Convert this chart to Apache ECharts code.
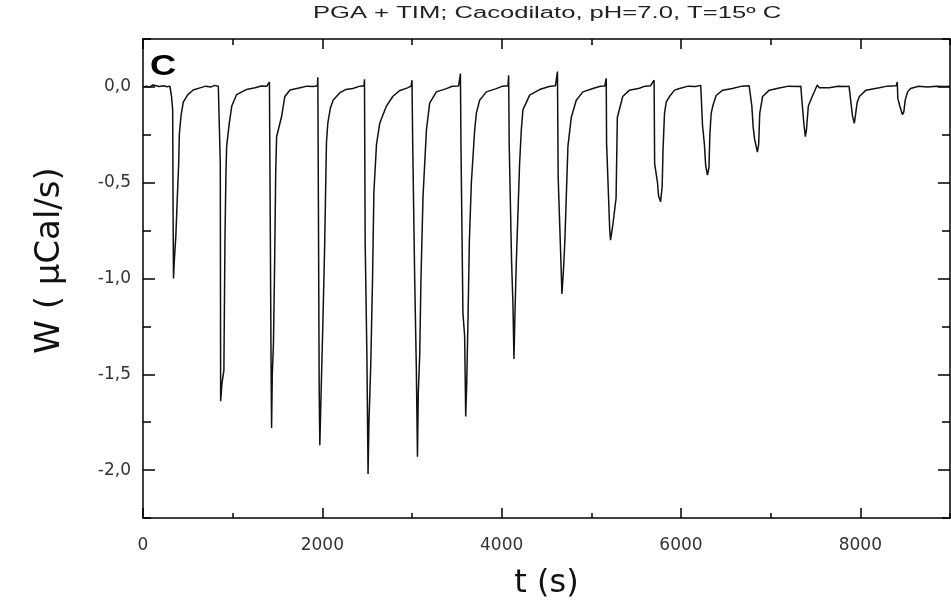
<!DOCTYPE html>
<html>
<head>
<meta charset="utf-8">
<script src="https://cdn.jsdelivr.net/npm/echarts@6/dist/echarts.min.js"></script>
<style>
html,body{margin:0;padding:0;background:#fff;}
#chart{width:951px;height:613px;}
</style>
</head>
<body>
<div id="chart"></div>
<script>
// ---- data (time in s, heat power in µcal/s) ----
const timeS = [
  0, 40, 80, 110, 130, 180, 230, 270, 300,
  318, 331, 336, 340, 350, 366, 385, 398, 405, 424, 449, 500, 560, 635, 700, 760, 800, 840,
  855, 862, 866, 880, 902, 914, 925, 933, 962, 990, 1044, 1156, 1250, 1320, 1380,
  1410, 1418, 1428, 1434, 1442, 1455, 1468, 1480, 1490, 1545, 1582, 1640, 1740, 1830, 1900, 1945,
  1950, 1956, 1965, 1972, 1985, 2005, 2025, 2040, 2046, 2061, 2090, 2120, 2195, 2260, 2340, 2420, 2465,
  2470, 2478, 2497, 2510, 2520, 2540, 2560, 2575, 2604, 2640, 2715, 2785, 2860, 2950, 2990,
  3000, 3008, 3030, 3048, 3061, 3070, 3086, 3100, 3123, 3161, 3197, 3272, 3383, 3450, 3520,
  3540, 3546, 3568, 3587, 3599, 3610, 3625, 3640, 3662, 3699, 3718, 3754, 3829, 3940, 4010, 4070,
  4078, 4084, 4110, 4126, 4137, 4150, 4163, 4200, 4219, 4237, 4312, 4423, 4530, 4600,
  4622, 4630, 4660, 4672, 4690, 4705, 4739, 4776, 4832, 4906, 5017, 5100, 5150,
  5166, 5170, 5205, 5214, 5240, 5276, 5290, 5350, 5425, 5536, 5600, 5660,
  5700, 5706, 5738, 5750, 5772, 5790, 5800, 5816, 5835, 5872, 5928, 5983, 6080, 6160, 6220,
  6232, 6240, 6261, 6275, 6295, 6312, 6322, 6336, 6354, 6392, 6465, 6573, 6680, 6760,
  6778, 6790, 6805, 6820, 6852, 6866, 6878, 6910, 6985, 7096, 7200, 7300,
  7336, 7350, 7372, 7387, 7400, 7420, 7468, 7520, 7543, 7654, 7750, 7850,
  7874, 7890, 7912, 7933, 7945, 7965, 7989, 8063, 8211, 8300, 8400,
  8412, 8418, 8440, 8470, 8485, 8500, 8527, 8560, 8650, 8750, 8850, 8950, 9000
];
const powerW = [
  0.000, 0.003, 0.000, 0.010, 0.004, 0.002, 0.006, 0.001, 0.004,
  -0.05, -0.12, -0.70, -1.00, -0.90, -0.78, -0.55, -0.40, -0.25, -0.15, -0.08, -0.04, -0.016, -0.005, 0.004, 0.000, 0.008, 0.003,
  0.004, -0.40, -1.64, -1.55, -1.48, -0.80, -0.45, -0.31, -0.19, -0.10, -0.04, -0.013, -0.004, 0.005, 0.003,
  0.026, -0.60, -1.42, -1.78, -1.50, -1.34, -0.92, -0.45, -0.26, -0.156, -0.05, -0.016, -0.006, 0.004, 0.002, 0.006,
  0.050, -0.60, -1.58, -1.87, -1.62, -1.25, -0.85, -0.45, -0.29, -0.19, -0.11, -0.07, -0.03, -0.014, -0.008, 0.004, 0.006,
  0.040, -0.82, -1.40, -2.02, -1.75, -1.45, -1.00, -0.55, -0.30, -0.19, -0.10, -0.05, -0.02, -0.005, 0.004,
  0.035, -0.30, -1.00, -1.46, -1.93, -1.60, -1.40, -1.00, -0.57, -0.225, -0.085, -0.026, -0.009, 0.003, 0.005,
  0.070, -0.30, -1.18, -1.30, -1.72, -1.55, -1.20, -0.80, -0.50, -0.225, -0.137, -0.07, -0.026, -0.009, 0.004, 0.006,
  0.060, -0.30, -0.90, -1.14, -1.42, -1.15, -0.92, -0.40, -0.225, -0.12, -0.043, -0.014, 0.002, 0.006,
  0.080, -0.47, -0.90, -1.08, -0.95, -0.80, -0.31, -0.16, -0.07, -0.026, -0.008, 0.003, 0.005,
  0.045, -0.29, -0.745, -0.80, -0.72, -0.58, -0.16, -0.05, -0.017, -0.007, 0.004, 0.006,
  0.035, -0.40, -0.50, -0.57, -0.60, -0.52, -0.32, -0.14, -0.08, -0.05, -0.017, -0.008, 0.004, 0.002, 0.008,
  0.017, -0.20, -0.30, -0.41, -0.46, -0.42, -0.25, -0.14, -0.10, -0.045, -0.017, -0.008, 0.004, 0.006,
  0.004, -0.10, -0.21, -0.27, -0.34, -0.30, -0.14, -0.05, -0.017, -0.006, 0.004, 0.002,
  0.004, -0.08, -0.20, -0.26, -0.22, -0.10, -0.045, 0.010, -0.005, -0.004, 0.003, 0.002,
  0.004, -0.06, -0.15, -0.19, -0.15, -0.08, -0.05, -0.017, -0.004, 0.004, 0.006,
  0.026, -0.06, -0.10, -0.145, -0.13, -0.07, -0.026, -0.008, 0.003, 0.000, 0.004, 0.002, 0.003
];
const xMajorTicks = [0, 2000, 4000, 6000, 8000];
const yMajorTicks = [0, -0.5, -1.0, -1.5, -2.0];
const titleText = 'PGA + TIM; Cacodilato, pH=7.0, T=15º C';
const panelText = 'C';
const xName = 't (s)';
const yName = 'W ( µCal/s)';

const points = timeS.map((t, i) => [t, powerW[i]]);
const fmtY = v => v.toFixed(1).replace('.', ',');

const chart = echarts.init(document.getElementById('chart'), null, {renderer: 'canvas'});
const lineC = '#000';
const hiddenLine = {show: false, onZero: false};
function tickStyle(len, custom) {
  const t = {show: true, inside: true, length: len, lineStyle: {color: lineC, width: 1.5}};
  if (custom) t.customValues = custom;
  return t;
}
function xAx(pos, tickLen, opts) {
  return Object.assign({
    type: 'value', splitLine: {show: false},
    position: pos, min: 0, max: 9000, interval: 1000,
    axisLine: {show: true, onZero: false, lineStyle: {color: lineC, width: 1.5}},
    axisTick: tickStyle(tickLen),
    axisLabel: {show: false}
  }, opts || {});
}
function yAx(pos, tickLen, opts) {
  return Object.assign({
    type: 'value', splitLine: {show: false},
    position: pos, min: -2.25, max: 0.25, interval: 0.25,
    axisLine: {show: true, onZero: false, lineStyle: {color: lineC, width: 1.5}},
    axisTick: tickStyle(tickLen),
    axisLabel: {show: false}
  }, opts || {});
}

const option = {
  backgroundColor: '#fff',
  animation: false,
  grid: {left: 143, right: 1, top: 39, bottom: 95, containLabel: false, outerBoundsMode: 'none'},
  xAxis: [
    xAx('bottom', 5, {
      axisLabel: {show: true, customValues: xMajorTicks, margin: 19, color: '#333',
        fontFamily: 'DejaVu Sans', fontSize: 17, formatter: v => String(v)},
      name: xName, nameLocation: 'middle', nameGap: 50,
      nameTextStyle: {fontFamily: 'DejaVu Sans', fontSize: 32, color: '#111'}
    }),
    xAx('bottom', 10, {axisLine: hiddenLine, axisTick: tickStyle(10, xMajorTicks)}),
    xAx('top', 6),
    xAx('top', 10, {axisLine: hiddenLine, axisTick: tickStyle(10, xMajorTicks)})
  ],
  yAxis: [
    yAx('left', 8, {
      axisLabel: {show: true, customValues: yMajorTicks, margin: 12, color: '#333',
        fontFamily: 'DejaVu Sans', fontSize: 17, formatter: fmtY},
      name: yName, nameLocation: 'middle', nameGap: 76, nameRotate: 90,
      nameTextStyle: {fontFamily: 'DejaVu Sans', fontSize: 34, color: '#111', padding: [0, 0, 0, 36]}
    }),
    yAx('left', 12, {axisLine: hiddenLine, axisTick: tickStyle(12, yMajorTicks)}),
    yAx('right', 8),
    yAx('right', 12, {axisLine: hiddenLine, axisTick: tickStyle(12, yMajorTicks)})
  ],
  graphic: [
    {type: 'text', x: 547, y: 14, scaleX: 1.6, silent: true,
      style: {text: titleText, font: '16px "Liberation Sans"', fill: '#222', align: 'center', verticalAlign: 'middle'}},
    {type: 'text', x: 163, y: 67, scaleX: 1.25, silent: true, z: 10,
      style: {text: panelText, font: 'bold 29px "Liberation Sans"', fill: '#000', align: 'center', verticalAlign: 'middle'}}
  ],
  series: [{
    type: 'line', xAxisIndex: 0, yAxisIndex: 0, data: points,
    showSymbol: false, symbol: 'none', clip: true,
    lineStyle: {color: '#111', width: 1.5}
  }]
};
chart.setOption(option);
</script>
</body>
</html>
